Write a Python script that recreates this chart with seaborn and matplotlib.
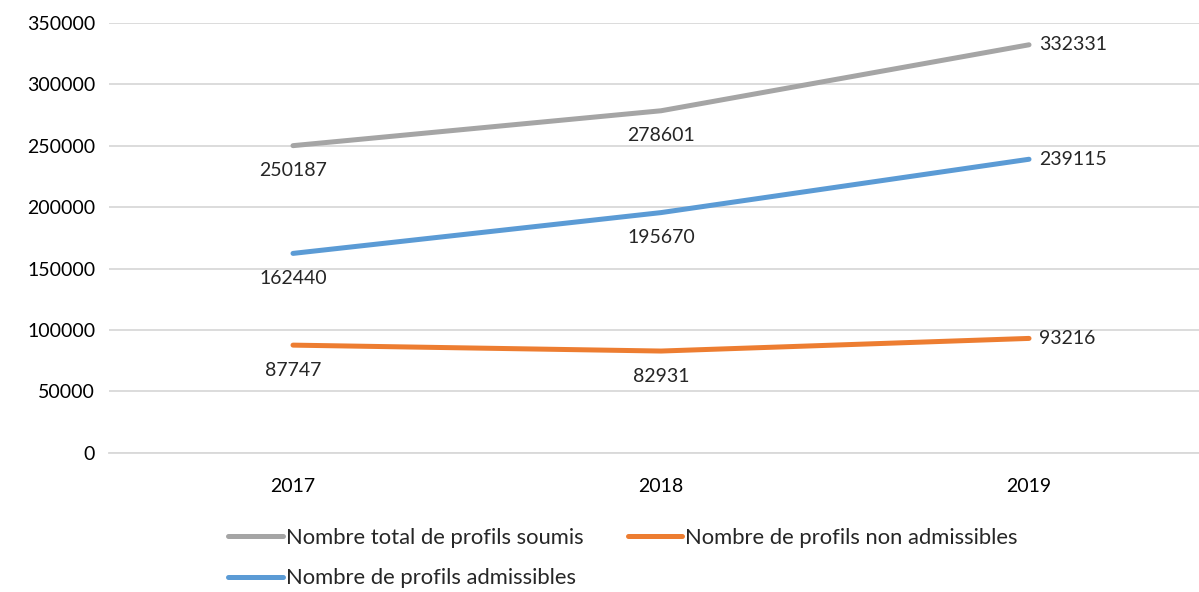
import matplotlib
matplotlib.use("Agg")
import pandas as pd
import seaborn as sns
from matplotlib import pyplot as plt

years = ["2017", "2018", "2019"]
total_soumis = [250187, 278601, 332331]
non_admissibles = [87747, 82931, 93216]
admissibles = [162440, 195670, 239115]

series_names = ["Nombre total de profils soumis",
                "Nombre de profils admissibles",
                "Nombre de profils non admissibles"]
series_values = [total_soumis, admissibles, non_admissibles]
colors = ["#A5A5A5", "#5B9BD5", "#ED7D31"]

sns.set_theme(style="white")
plt.rcParams['font.family'] = ['Lato', 'DejaVu Sans']

rows = []
for name, vals in zip(series_names, series_values):
    for i, (y, v) in enumerate(zip(years, vals)):
        rows.append({'pos': i, 'year': y, 'value': v, 'serie': name})
df = pd.DataFrame(rows)

fig = plt.figure(figsize=(11.99, 5.92), dpi=100)
ax = fig.add_axes([0.0909, 0.235, 0.9208, 0.726])

sns.lineplot(data=df, x='pos', y='value', hue='serie', hue_order=series_names,
             palette=colors, linewidth=3.6, ax=ax, legend=False, sort=False)
for line in ax.lines:
    line.set_solid_capstyle('round')

ax.set_xlim(-0.5, 2.5)
ax.set_ylim(0, 350000)
ax.set_yticks(range(0, 350001, 50000))
ax.set_xticks(range(len(years)))
ax.set_xticklabels(years)
ax.tick_params(axis='both', labelsize=14, colors='#000000', length=0)
ax.tick_params(axis='x', pad=18)
ax.tick_params(axis='y', pad=10)
ax.yaxis.grid(True, color='#D9D9D9', linewidth=1.3)
ax.set_axisbelow(True)
for s in ['top', 'right', 'left']:
    ax.spines[s].set_visible(False)
ax.spines['bottom'].set_color('#D9D9D9')
ax.spines['bottom'].set_linewidth(1.3)
ax.set_xlabel('')
ax.set_ylabel('')

for vals in series_values:
    for i, v in enumerate(vals):
        if i < len(vals) - 1:
            ax.annotate(str(v), (i, v), xytext=(0, -18), textcoords='offset points',
                        ha='center', va='center', fontsize=14)
        else:
            ax.annotate(str(v), (i, v), xytext=(7, 0), textcoords='offset points',
                        ha='left', va='center', fontsize=14)

handles = [plt.Line2D([], [], color=c, linewidth=3.6, solid_capstyle='round') for c in colors]
fig.legend(handles, series_names, ncol=2, loc='center',
           bbox_to_anchor=(623 / 1199, 1 - 558 / 592), frameon=False, fontsize=15.8,
           handlelength=2.5, handletextpad=0.14, columnspacing=2.0, labelspacing=0.95)

fig.savefig('out.png', dpi=100)
